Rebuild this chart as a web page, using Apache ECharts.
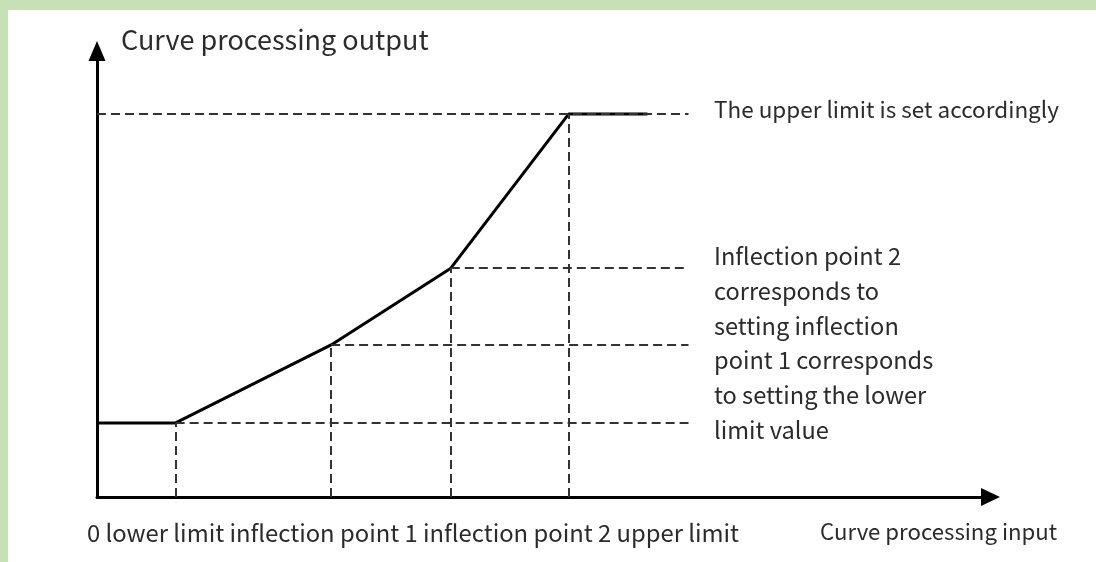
<!DOCTYPE html>
<html>
<head>
<meta charset="utf-8">
<title>Curve processing</title>
<script src="https://cdn.jsdelivr.net/npm/echarts@6/dist/echarts.min.js"></script>
<style>
  html, body { margin: 0; padding: 0; background: #ffffff; }
  #chart { width: 1096px; height: 562px; }
</style>
</head>
<body>
<div id="chart"></div>
<script>
// Breakpoints of the piecewise-linear curve (input on x, output on y, 0–100 scale)
const pointNames = ['lower limit', 'inflection point 1', 'inflection point 2', 'upper limit'];
const inputValues = [8.8, 26.2, 39.6, 52.8];
const outputValues = [16.6, 34.1, 51.3, 85.9];
const plateauEnd = 61.6;   // where the upper output plateau stops
const guideEnd = 66.2;     // where the horizontal guide lines stop

const axisMax = { x: 100, y: 100 };

const FONT = '"Noto Sans CJK SC", "Noto Sans", sans-serif';
const TEXT_COLOR = '#2b2b2b';

// Curve: flat at the lower limit, rising through both inflection points, flat at the upper limit
const curveData = [[0, outputValues[0]]]
  .concat(inputValues.map((x, i) => [x, outputValues[i]]))
  .concat([[plateauEnd, outputValues[outputValues.length - 1]]]);

// Dashed guides: vertical drops to the input axis and horizontal runs to the right
const guideLines = [];
inputValues.forEach((x, i) => {
  guideLines.push([{ coord: [x, 0] }, { coord: [x, outputValues[i]] }]);
  const startX = i === inputValues.length - 1 ? 0 : x;
  guideLines.push([{ coord: [startX, outputValues[i]] }, { coord: [guideEnd, outputValues[i]] }]);
});

const chart = echarts.init(document.getElementById('chart'), null, { renderer: 'canvas' });

chart.setOption({
  backgroundColor: '#ffffff',
  animation: false,
  grid: { left: 97, right: 105.5, top: 51, bottom: 65, containLabel: false },
  xAxis: {
    type: 'value', min: 0, max: axisMax.x,
    axisLine: {
      show: true, onZero: false,
      symbol: ['none', 'triangle'], symbolSize: [18, 19],
      lineStyle: { color: '#000', width: 3 }
    },
    axisTick: { show: false }, axisLabel: { show: false }, splitLine: { show: false }
  },
  yAxis: {
    type: 'value', min: 0, max: axisMax.y,
    axisLine: {
      show: true, onZero: false,
      symbol: ['none', 'triangle'], symbolSize: [17, 20],
      lineStyle: { color: '#000', width: 3 }
    },
    axisTick: { show: false }, axisLabel: { show: false }, splitLine: { show: false }
  },
  series: [
    {
      name: 'guides',
      type: 'line',
      data: [],
      silent: true,
      markLine: {
        silent: true,
        symbol: 'none',
        label: { show: false },
        lineStyle: { color: '#333333', width: 2, type: [9, 5] },
        data: guideLines
      },
      z: 1
    },
    {
      name: 'curve',
      type: 'line',
      data: curveData,
      showSymbol: false,
      lineStyle: { color: '#000', width: 3 },
      z: 3
    }
  ],
  graphic: [
    { type: 'rect', shape: { x: 0, y: 0, width: 1096, height: 10 }, style: { fill: '#c6e1b5' }, silent: true },
    { type: 'rect', shape: { x: 0, y: 0, width: 8, height: 562 }, style: { fill: '#c6e1b5' }, silent: true },
    {
      type: 'text', x: 121, y: 40,
      style: { text: 'Curve processing output', font: '27px ' + FONT, fill: TEXT_COLOR,
               textAlign: 'left', textVerticalAlign: 'middle' }
    },
    {
      type: 'text', x: 714, y: 109,
      style: { text: 'The upper limit is set accordingly', font: '22.5px ' + FONT, fill: TEXT_COLOR,
               textAlign: 'left', textVerticalAlign: 'middle' }
    },
    {
      type: 'text', x: 714, y: 238.6,
      style: {
        text: 'Inflection point 2\ncorresponds to\nsetting inflection\npoint 1 corresponds\nto setting the lower\nlimit value',
        font: '23.6px ' + FONT, fill: TEXT_COLOR, lineHeight: 34.8,
        textAlign: 'left', textVerticalAlign: 'top'
      }
    },
    {
      type: 'text', x: 87, y: 533,
      style: { text: '0 lower limit inflection point 1 inflection point 2 upper limit', font: '23.8px ' + FONT,
               fill: TEXT_COLOR, textAlign: 'left', textVerticalAlign: 'middle' }
    },
    {
      type: 'text', x: 820, y: 532,
      style: { text: 'Curve processing input', font: '22.2px ' + FONT, fill: TEXT_COLOR,
               textAlign: 'left', textVerticalAlign: 'middle' }
    }
  ]
});
</script>
</body>
</html>
